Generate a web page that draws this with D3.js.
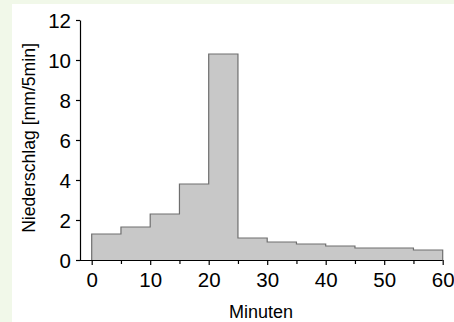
<!DOCTYPE html>
<html>
<head>
<meta charset="UTF-8">
<title>Niederschlag</title>
<style>
  html, body { margin: 0; padding: 0; background: #f1f8e9; }
  #chart { position: absolute; left: 12px; top: 4px; width: 442px; height: 318px; background: #ffffff; }
  svg { position: absolute; left: 0; top: 0; }
  .domain, .tick line { stroke: #000; stroke-width: 1.2px; }
</style>
</head>
<body>
<div id="chart"></div>
<script src="https://d3js.org/d3.v7.min.js"></script>
<script>
// Intervallgrenzen (Minuten) und Niederschlag je 5 min
var startMinutes = [0, 5, 10, 15, 20, 25, 30, 35, 40, 45, 50, 55];
var rainValues = [1.3, 1.65, 2.3, 3.8, 10.3, 1.1, 0.9, 0.8, 0.7, 0.6, 0.6, 0.5];
var xTicks = [0, 10, 20, 30, 40, 50, 60];
var xMinorTicks = [5, 15, 25, 35, 45, 55];
var yTicks = [0, 2, 4, 6, 8, 10, 12];

var width = 454, height = 322;
var svg = d3.select("body").append("svg")
  .attr("width", width)
  .attr("height", height);

var x = d3.scaleLinear().domain([0, 60]).range([91.7, 442.7]);
var y = d3.scaleLinear().domain([0, 12]).range([260, 20]);

// Stufenfläche
var pts = [];
startMinutes.forEach(function(m, i) {
  pts.push([m, rainValues[i]]);
  pts.push([m + 5, rainValues[i]]);
});
var area = d3.area()
  .x(function(d) { return x(d[0]); })
  .y0(y(0))
  .y1(function(d) { return y(d[1]); });
svg.append("path")
  .datum(pts)
  .attr("d", area)
  .attr("fill", "#c8c8c8")
  .attr("stroke", "none");

var outline = [[0, 0]].concat(pts).concat([[60, 0]]);
svg.append("path")
  .datum(outline)
  .attr("d", d3.line().x(function(d) { return x(d[0]); }).y(function(d) { return y(d[1]); }))
  .attr("fill", "none")
  .attr("stroke", "#6e6e6e")
  .attr("stroke-width", 1.2);

// x-Achse
svg.append("g")
  .attr("transform", "translate(0,260)")
  .call(d3.axisBottom(x).tickValues(xMinorTicks).tickSize(4).tickFormat(""))
  .call(function(g) { g.select(".domain").remove(); });
var xg = svg.append("g")
  .attr("transform", "translate(0,260)")
  .call(d3.axisBottom(x).tickValues(xTicks).tickSize(5).tickSizeOuter(0).tickPadding(7));
xg.select(".domain").attr("d", "M76,0.5H" + x(60));

// y-Achse
var yg = svg.append("g")
  .attr("transform", "translate(80,0)")
  .call(d3.axisLeft(y).tickValues(yTicks).tickSize(4).tickSizeOuter(0).tickPadding(5));
yg.selectAll(".tick text").attr("dy", "0.36em");

svg.selectAll(".tick text")
  .style("font-family", "Liberation Sans, Arial, sans-serif")
  .style("font-size", "20.5px")
  .style("fill", "#000");

// Achsentitel
svg.append("text")
  .attr("x", 261)
  .attr("y", 318)
  .attr("text-anchor", "middle")
  .style("font-family", "Liberation Sans, Arial, sans-serif")
  .style("font-size", "18px")
  .text("Minuten");

svg.append("text")
  .attr("transform", "translate(34.5,138) rotate(-90)")
  .attr("text-anchor", "middle")
  .style("font-family", "Liberation Sans, Arial, sans-serif")
  .style("font-size", "17.6px")
  .text("Niederschlag [mm/5min]");
</script>
</body>
</html>
